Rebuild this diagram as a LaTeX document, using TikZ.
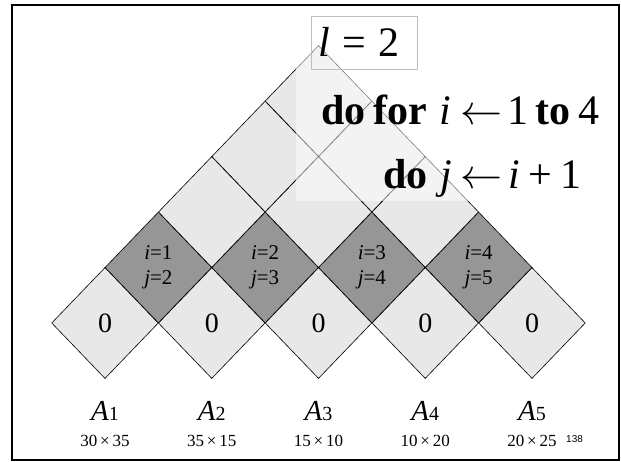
\RequirePackage{fix-cm}
\documentclass[tikz,border=0pt]{standalone}
\usepackage{fontspec}
\setmainfont{Liberation Serif}
\newfontfamily\sansf{Liberation Sans}
\usetikzlibrary{shapes.geometric}
\definecolor{lightc}{HTML}{E8E8E8}
\definecolor{darkc}{HTML}{969696}
\begin{document}
\begin{tikzpicture}[x=1pt,y=-1pt,
  cell/.style={diamond, draw=black, line width=0.6pt, minimum width=106.75pt,
    minimum height=111pt, inner sep=0pt, fill=lightc},
  darkcell/.style={cell, fill=darkc, align=center, font=\fontsize{21}{27}\selectfont},
  zerocell/.style={cell, font=\fontsize{28}{30}\selectfont},
  bigtext/.style={anchor=base west, inner sep=0pt, font=\fontsize{42}{45}\selectfont},
  mlabel/.style={anchor=base, inner sep=0pt},
  dimlabel/.style={anchor=base, inner sep=0pt, font=\fontsize{17}{19}\selectfont}]
\useasboundingbox (0,0) rectangle (621,461);
\fill[white] (0,0) rectangle (621,461);
% bottom row
\foreach \k in {0,...,4}{
  \pgfmathsetmacro\cx{105+106.75*\k}
  \node[zerocell] (c0\k) at (\cx,323) {0};
}
% dark row
\foreach \k/\j in {0/2,1/3,2/4,3/5}{
  \pgfmathsetmacro\cx{158.375+106.75*\k}
  \pgfmathtruncatemacro\ii{\k+1}
  \node[darkcell] (c1\k) at (\cx,267.5) {\textit{i}=\ii\\[-2pt]\textit{j}=\j};
}
% upper rows
\foreach \r in {2,3,4}{
  \pgfmathtruncatemacro\kmax{4-\r}
  \foreach \k in {0,...,\kmax}{
    \pgfmathsetmacro\cx{105+53.375*\r+106.75*\k}
    \pgfmathsetmacro\cy{323-55.5*\r}
    \node[cell] (c\r\k) at (\cx,\cy) {};
  }
}
% translucent overlay
\fill[white, opacity=0.5] (296,16) rectangle (612,201);
% l = 2 box
\node[draw=black!25, line width=0.8pt, minimum width=106pt, minimum height=53pt, inner sep=0pt] (lbox) at (364,42.5) {};
\node[anchor=base west, inner sep=0pt, font=\fontsize{42}{44}\selectfont] (ltext) at (318,56)
  {\textit{l}\hspace{0.3em}=\hspace{0.3em}2};
% loop text
\node[bigtext] (line1) at (321,124)
  {\textbf{do}\hspace{0.2em}\textbf{for}\hspace{0.28em}\textit{i}\hspace{0.22em}$\leftarrow$\hspace{0.12em}1\hspace{0.18em}\textbf{to}\hspace{0.18em}4};
\node[bigtext] (line2) at (383,188)
  {\textbf{do}\hspace{0.3em}\textit{j}\hspace{0.2em}$\leftarrow$\hspace{0.15em}\textit{i}\hspace{0.2em}+\hspace{0.2em}1};
% matrix labels
\foreach \k/\d in {1/30\,{\texttimes}\,35,2/35\,{\texttimes}\,15,3/15\,{\texttimes}\,10,4/10\,{\texttimes}\,20,5/20\,{\texttimes}\,25}{
  \pgfmathsetmacro\cx{105+106.75*(\k-1)}
  \node[mlabel] (a\k) at (\cx,420) {{\fontsize{29}{30}\selectfont\textit{A}}{\fontsize{20}{21}\selectfont\k}};
  \node[dimlabel] (d\k) at (\cx,446) {\d};
}
\node[anchor=base west, inner sep=0pt, font=\sansf\fontsize{10}{12}\selectfont] (pnum) at (566,442) {138};
% frame
\draw[line width=2pt] (11.7,5.3) rectangle (619,460);
\end{tikzpicture}
\end{document}
